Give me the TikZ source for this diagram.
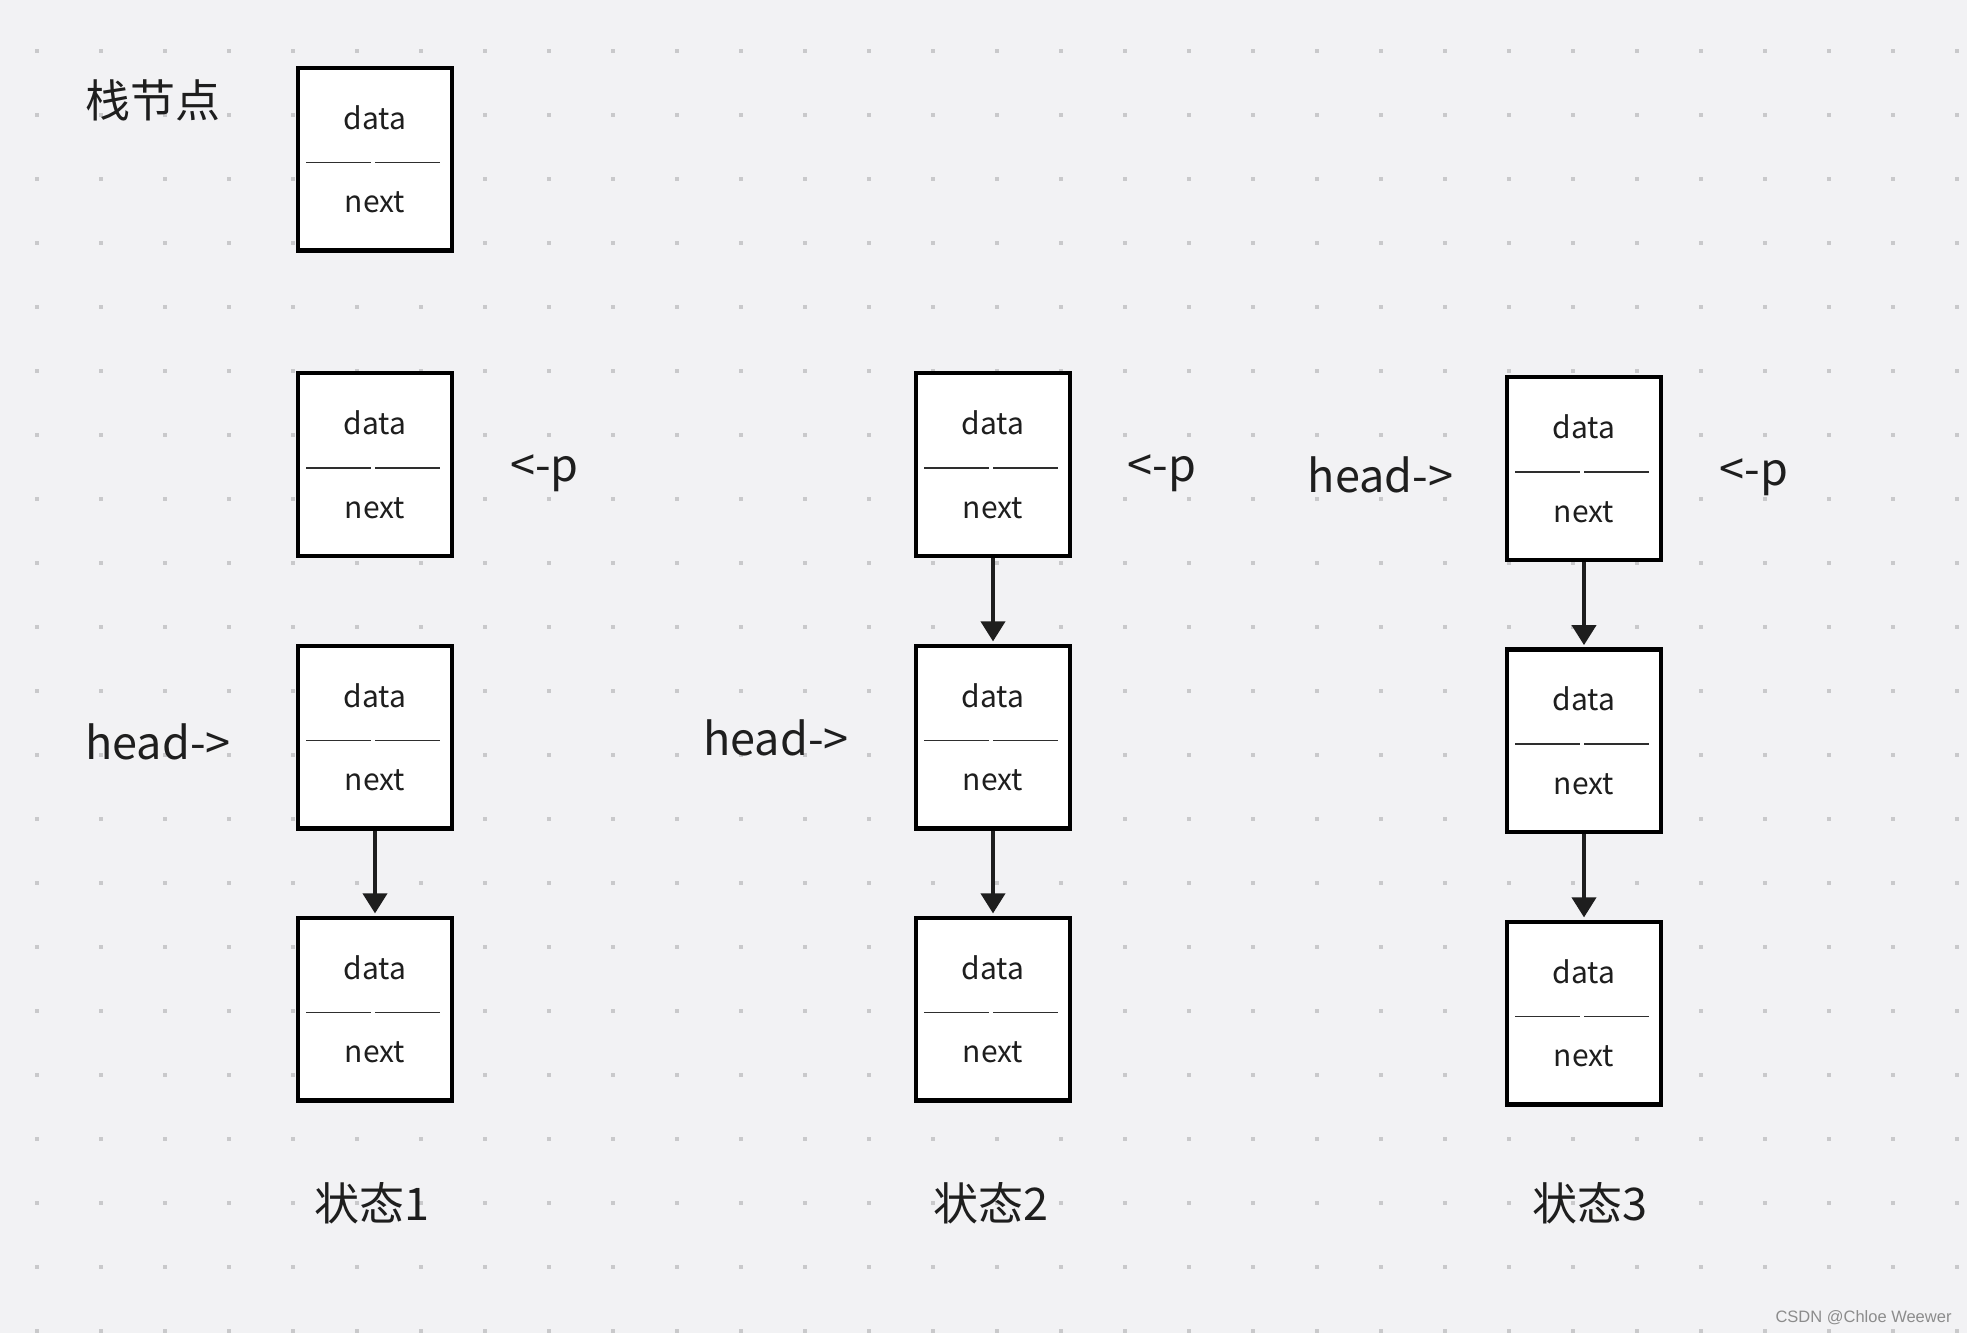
\documentclass[tikz,border=0pt]{standalone}
\usepackage{fontspec}
\usepackage{tikz}
\usetikzlibrary{arrows.meta,positioning,calc}
\newfontfamily\cjk{Noto Sans CJK SC}
\newfontfamily\wmfont{Liberation Sans}
\definecolor{cBg}{HTML}{F2F2F4}
\definecolor{cDot}{HTML}{C9C9CB}
\definecolor{cInk}{HTML}{1E1E1E}
\definecolor{cSep}{HTML}{2E2E2E}
\definecolor{cMark}{HTML}{8C8C8C}
\tikzset{
  stk/.style={draw=black, fill=white, line width=4.3pt, inner sep=0pt,
              minimum width=153.7pt, minimum height=182.7pt},
  fld/.style={font=\cjk\fontsize{30}{36}\selectfont, text=cInk, inner sep=0pt, anchor=base},
  sep/.style={draw=cSep, line width=1.8pt},
  ptr/.style={font=\cjk\fontsize{45}{54}\selectfont, text=cInk, inner sep=0pt, anchor=base},
  ttlbl/.style={font=\cjk\fontsize{45}{54}\selectfont, text=cInk, inner sep=0pt},
  dep/.style={-{Triangle[length=20pt,width=24pt]}, line width=3.8pt, draw=cInk, shorten >=2.1pt},
}
% one stack node: box, two fields and the dividing rule
\newcommand{\stk}[3]{%
  \node[stk] (#1) at (#2,#3) {};
  \node[fld] (#1-d) at ($(#1)+(0,-30)$) {data};
  \node[fld] (#1-n) at ($(#1)+(0,53.5)$) {next};
  \draw[sep] ($(#1)+(-69,3.5)$) -- ($(#1)+(-4,3.5)$);
  \draw[sep] ($(#1)+(0,3.5)$) -- ($(#1)+(65,3.5)$);
}

\begin{document}
\begin{tikzpicture}[x=1pt, y=-1pt]
  \useasboundingbox (0,0) rectangle (1967,1333);
  \fill[cBg] (0,0) rectangle (1967,1333);
  \foreach \i in {0,...,30}
    \foreach \j in {0,...,20}
      \fill[cDot] (35.3+64*\i, 49.3+64*\j) rectangle ++(3.4,3.4);

  \node[ttlbl] (ttl) at (153,100) {栈节点};
  \stk{nd}{375}{159}

  \stk{p1}{375}{464.5}
  \stk{h1}{375}{737}
  \stk{n1}{375}{1009}
  \node[ptr] (pl1) at (544.5,481) {<-p};
  \node[ptr] (hd1) at (158,759) {head->};
  \node[ttlbl] (st1) at (372,1203) {状态1};
  \draw[dep] (h1) -- (n1);

  \stk{p2}{993}{464.5}
  \stk{h2}{993}{737}
  \stk{n2}{993}{1009}
  \node[ptr] (pl2) at (1162,481) {<-p};
  \node[ptr] (hd2) at (776,755) {head->};
  \node[ttlbl] (st2) at (991,1203) {状态2};
  \draw[dep] (p2) -- (h2);
  \draw[dep] (h2) -- (n2);

  \stk{p3}{1584}{468.5}
  \stk{h3}{1584}{740.7}
  \stk{n3}{1584}{1013}
  \node[ptr] (pl3) at (1754,485) {<-p};
  \node[ptr] (hd3) at (1380.5,492) {head->};
  \node[ttlbl] (st3) at (1590,1203) {状态3};
  \draw[dep] (p3) -- (h3);
  \draw[dep] (h3) -- (n3);

  \node[font=\wmfont\fontsize{16.5}{20}\selectfont, text=cMark, inner sep=0pt] (wm) at (1863.5,1318) {CSDN @Chloe Weewer};
\end{tikzpicture}
\end{document}
